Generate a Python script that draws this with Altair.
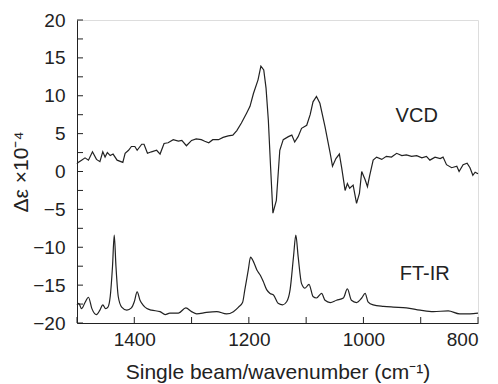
import altair as alt
import pandas as pd

# VCD spectrum (wavenumber, delta-epsilon x1e-4)
vcd_wn = [1500, 1498, 1492, 1486, 1480, 1473, 1466, 1460, 1455, 1451,
          1447, 1442, 1437, 1430, 1420, 1416, 1410, 1405, 1399, 1395,
          1387, 1383, 1377, 1370, 1361, 1355, 1348, 1341, 1332, 1323,
          1317, 1309, 1300, 1292, 1283, 1277, 1270, 1263, 1253, 1245,
          1236, 1228, 1221, 1213, 1204, 1198, 1192, 1184, 1179, 1174,
          1170, 1166, 1162, 1158, 1152, 1146, 1140, 1131, 1125, 1120,
          1114, 1108, 1099, 1093, 1088, 1082, 1076, 1067, 1058, 1054,
          1048, 1042, 1038, 1032, 1028, 1024, 1018, 1012, 1007, 1003,
          997, 993, 989, 983, 977, 968, 960, 951, 942, 933,
          925, 916, 907, 898, 890, 884, 875, 866, 861, 855,
          846, 837, 833, 826, 819, 814, 809, 805, 800]
vcd_val = [1.0, 1.2, 1.5, 1.8, 1.5, 2.6, 1.6, 1.3, 2.6, 1.9,
           2.5, 2.1, 2.3, 1.5, 1.2, 2.4, 2.8, 3.3, 3.3, 2.8,
           3.6, 3.6, 2.4, 2.6, 2.8, 2.3, 3.7, 3.8, 4.2, 4.0,
           4.1, 3.4, 4.1, 4.3, 4.2, 4.0, 3.8, 4.2, 4.2, 4.5,
           4.7, 4.8, 5.4, 6.4, 7.7, 8.6, 10.3, 12.1, 13.9, 13.4,
           11.0, 6.8, 0.5, -5.5, -3.8, 2.8, 4.2, 4.6, 4.8, 3.9,
           4.6, 5.7, 6.1, 7.5, 9.2, 9.9, 9.0, 5.9, 2.4, 0.7,
           1.7, 2.3, 0.5, -2.5, -1.6, -2.2, -1.8, -4.2, -2.9, 0.0,
           -1.1, -2.0, -0.5, 1.5, 1.9, 1.6, 2.0, 1.9, 2.4, 2.1,
           2.2, 2.0, 2.1, 1.8, 2.0, 1.5, 1.9, 1.7, 1.9, 0.9,
           0.5, 0.7, 0.0, 0.9, 1.1, 0.5, -0.5, -0.1, -0.3]

# FT-IR spectrum (offset trace)
ir_wn = [1500, 1497, 1492, 1486, 1480, 1474, 1466, 1460, 1455, 1450,
         1446, 1442, 1438, 1435, 1432, 1428, 1422, 1413, 1405, 1400,
         1395, 1390, 1385, 1378, 1370, 1355, 1346, 1338, 1323, 1310,
         1300, 1291, 1274, 1256, 1239, 1227, 1218, 1211, 1207, 1201,
         1197, 1192, 1186, 1180, 1175, 1169, 1163, 1157, 1149, 1141,
         1134, 1128, 1122, 1118, 1114, 1108, 1102, 1095, 1088, 1082,
         1073, 1067, 1058, 1047, 1035, 1028, 1021, 1012, 1003, 997,
         992, 983, 965, 948, 925, 901, 878, 852, 832, 814,
         800]
ir_val = [-17.6, -17.4, -18.1, -17.3, -16.6, -18.1, -18.9, -18.3, -17.6, -18.1,
          -17.9, -16.5, -12.5, -8.4, -12.5, -16.5, -17.9, -18.3, -18.0, -17.2,
          -15.9, -17.0, -17.6, -18.1, -18.3, -18.5, -18.9, -18.7, -18.7, -18.0,
          -18.5, -18.8, -18.6, -18.5, -18.8, -18.5, -17.9, -17.3, -15.6, -13.0,
          -11.3, -11.9, -13.0, -13.7, -14.5, -15.6, -16.1, -16.3, -17.4, -17.6,
          -17.2, -15.6, -11.2, -8.4, -11.2, -14.8, -15.4, -14.9, -16.5, -16.7,
          -16.1, -17.0, -17.3, -17.0, -16.7, -15.5, -17.0, -17.3, -16.7, -16.1,
          -17.2, -17.6, -17.8, -17.9, -18.0, -18.3, -18.5, -18.4, -18.8, -18.8,
          -18.7]

label_text = ["VCD", "FT-IR"]
label_wn = [907, 893]
label_val = [7.3, -13.5]

x_ticks = [1500, 1400, 1300, 1200, 1100, 1000, 900, 800]
x_labels = [1400, 1200, 1000, 800]
y_ticks = [-20, -17.5, -15, -12.5, -10, -7.5, -5, -2.5, 0, 2.5, 5, 7.5, 10, 12.5, 15, 17.5, 20]
y_labels = [-20, -15, -10, -5, 0, 5, 10, 15, 20]

W, H = 401, 303
FONT = "Liberation Sans"
INK = "#222222"

vcd_df = pd.DataFrame({"wn": vcd_wn, "val": vcd_val})
ir_df = pd.DataFrame({"wn": ir_wn, "val": ir_val})
lab_df = pd.DataFrame({"wn": label_wn, "val": label_val, "text": label_text})
xt_df = pd.DataFrame({"wn": x_ticks})
yt_df = pd.DataFrame({"val": y_ticks})

xscale = alt.Scale(domain=[800, 1500], reverse=True, nice=False, zero=False)
yscale = alt.Scale(domain=[-20, 20], nice=False, zero=False)

xaxis = alt.Axis(values=x_labels, format="d", ticks=False, grid=False, labelFont=FONT,
                 labelFontSize=19, labelColor=INK, labelPadding=7, labelOverlap=False,
                 domainColor=INK,
                 title="Single beam/wavenumber (cm⁻¹)", titleFont=FONT, titleFontSize=21,
                 titleFontWeight="normal", titleColor=INK, titleY=55, titleBaseline="alphabetic")
yaxis = alt.Axis(values=y_labels, format="d", ticks=False, grid=False, labelFont=FONT,
                 labelFontSize=19, labelColor=INK, labelPadding=12, labelOverlap=False,
                 domainColor=INK,
                 title="Δε ×10⁻⁴", titleFont=FONT, titleFontSize=21, titleFontWeight="normal",
                 titleColor=INK, titleX=-50, titleY=H / 2, titleAngle=-90,
                 titleAlign="center", titleBaseline="alphabetic")


def X():
    return alt.X("wn:Q", scale=xscale, axis=xaxis)


def Y():
    return alt.Y("val:Q", scale=yscale, axis=yaxis)


vcd = alt.Chart(vcd_df).mark_line(color=INK, strokeWidth=1.2).encode(x=X(), y=Y())
ir = alt.Chart(ir_df).mark_line(color=INK, strokeWidth=1.2, interpolate="monotone").encode(
    x=X(), y=Y())
labels = alt.Chart(lab_df).mark_text(font=FONT, fontSize=20, color=INK, align="center",
                                     baseline="middle").encode(x=X(), y=Y(), text="text:N")
xt = alt.Chart(xt_df).mark_rule(color=INK, strokeWidth=1).encode(
    x=X(), y=alt.value(H), y2=alt.value(H - 6))
yt = alt.Chart(yt_df).mark_rule(color=INK, strokeWidth=1).encode(
    y=Y(), x=alt.value(0), x2=alt.value(6))

chart = alt.layer(vcd, ir, labels, xt, yt).properties(
    width=W, height=H,
    autosize=alt.AutoSizeParams(type="none"),
    padding={"left": 77, "top": 20, "right": 20, "bottom": 61},
).configure_view(stroke=INK, strokeWidth=1).configure(background="white")

chart.save("out.html", embed_options={"renderer": "svg", "actions": False})
